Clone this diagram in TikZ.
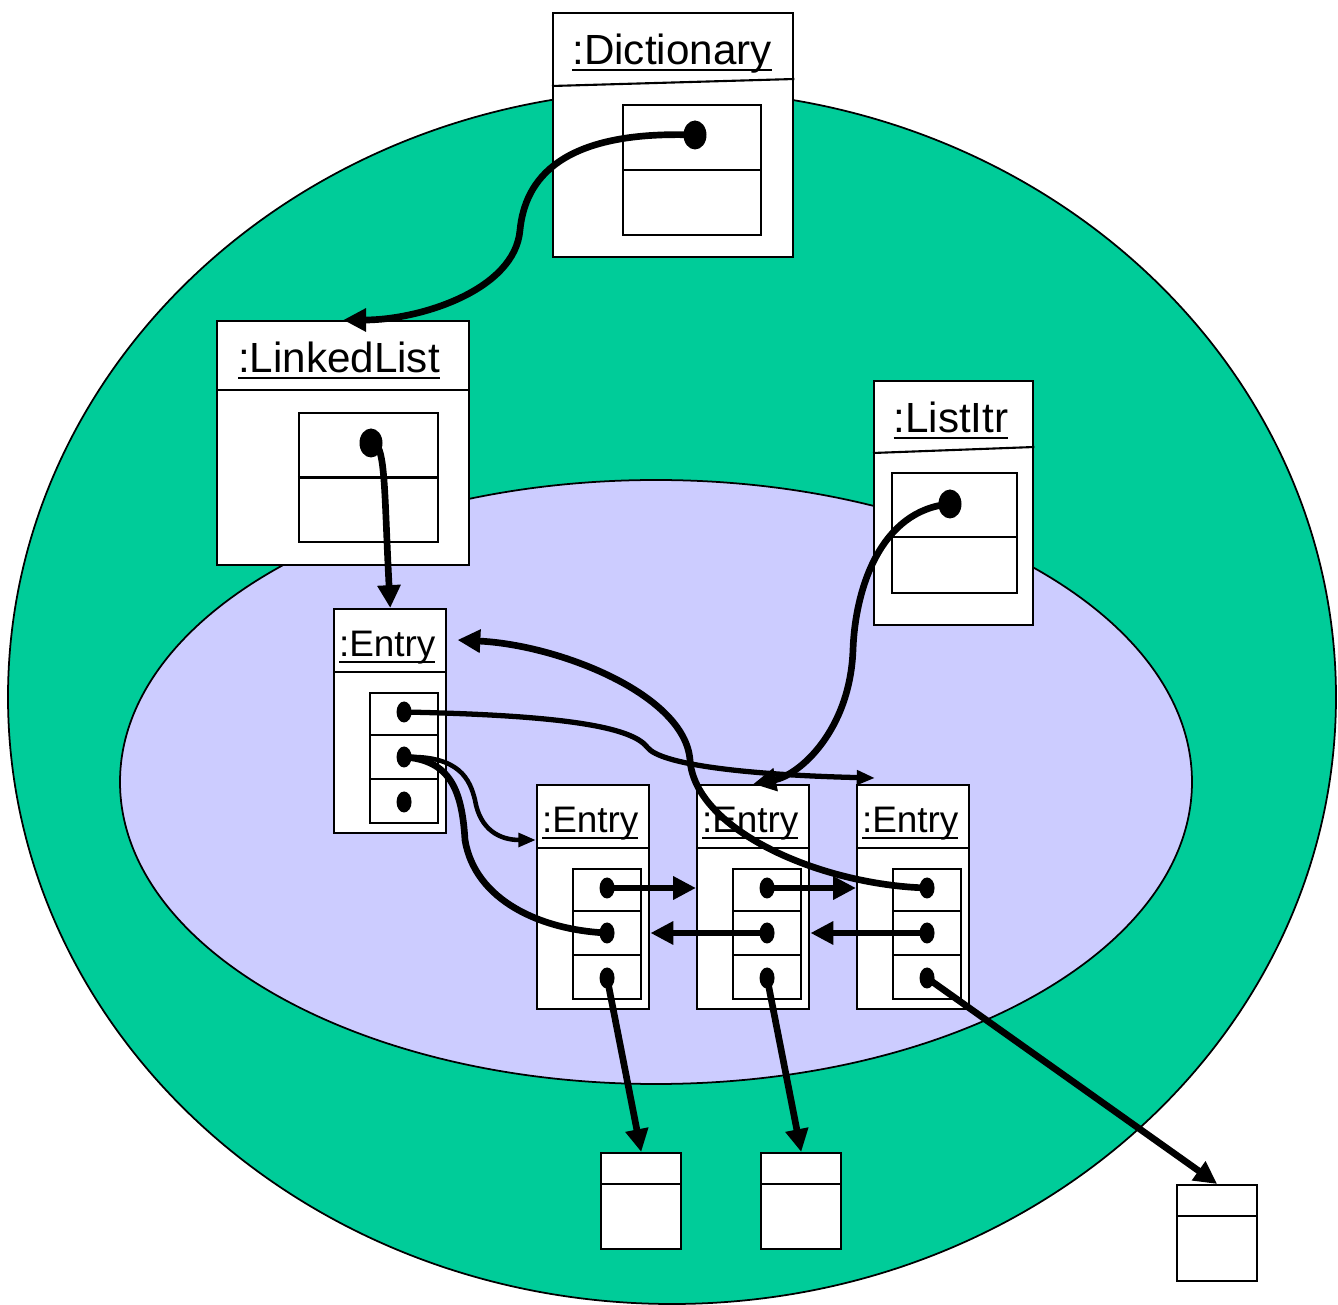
\documentclass[tikz,border=0pt]{standalone}
\usepackage{fontspec}
\setmainfont{Liberation Sans}
\usetikzlibrary{arrows.meta,shapes.geometric,calc}

\definecolor{outergreen}{RGB}{0,204,153}
\definecolor{innerblue}{RGB}{204,204,255}

\begin{document}
\begin{tikzpicture}[
    obj/.style={draw, line width=0.7pt, fill=white, inner sep=0pt, anchor=north west},
    slot/.style={draw, line width=0.6pt, fill=white, inner sep=0pt, anchor=north west},
    head/.style={anchor=base, inner sep=0pt, font=\fontsize{12}{14}\selectfont},
    ehead/.style={anchor=base, inner sep=0pt, font=\fontsize{10.5}{12}\selectfont},
    bigdot/.style={ellipse, fill=black, inner sep=0pt, minimum width=0.23cm, minimum height=0.29cm},
    smalldot/.style={ellipse, fill=black, inner sep=0pt, minimum width=0.15cm, minimum height=0.21cm},
    ptr/.style={line width=1.9pt, -{Triangle[length=6.5pt, width=6.3pt]}},
    thinptr/.style={line width=1.3pt, -{Triangle[length=5pt, width=3.8pt]}}
  ]
     \useasboundingbox (0,0) rectangle (13.38,-13.05);

     % 領域
     \draw [fill=outergreen, line width=0.5pt] (6.72,-6.97) ellipse [x radius=6.64, y radius=6.07];
     \draw [fill=innerblue, line width=0.5pt] (6.56,-7.82) ellipse [x radius=5.36, y radius=3.02];

     % Dictionary
     \node [obj, minimum width=2.40cm, minimum height=2.44cm] (dict) at (5.52,-0.12) {};
     \node [head] (dictt) at (6.72,-0.65) {\underline{\smash{:Dictionary}}};
     \draw [line width=0.6pt] ($(dict.north west)+(0,-0.74)$) -- ($(dict.north east)+(0,-0.67)$);
     \node [slot, minimum width=1.38cm, minimum height=1.30cm] (dslot) at (6.22,-1.04) {};
     \draw [line width=0.6pt] (dslot.west) -- (dslot.east);
     \node [bigdot] (dd) at (6.95,-1.35) {};

     % LinkedList
     \node [obj, minimum width=2.52cm, minimum height=2.44cm] (ll) at (2.16,-3.20) {};
     \node [head] (llt) at (3.39,-3.73) {\underline{\smash{:LinkedList}}};
     \draw [line width=0.6pt] ($(ll.north west)+(0,-0.70)$) -- ($(ll.north east)+(0,-0.70)$);
     \node [slot, minimum width=1.39cm, minimum height=1.29cm] (lslot) at (2.98,-4.12) {};
     \draw [line width=0.6pt] (lslot.west) -- (lslot.east);
     \node [bigdot] (ld) at (3.71,-4.43) {};

     % ListItr
     \node [obj, minimum width=1.59cm, minimum height=2.44cm] (itr) at (8.73,-3.80) {};
     \node [head] (itrt) at (9.51,-4.33) {\underline{\smash{:ListItr}}};
     \draw [line width=0.6pt] ($(itr.north west)+(0,-0.73)$) -- ($(itr.north east)+(0,-0.67)$);
     \node [slot, minimum width=1.25cm, minimum height=1.20cm] (islot) at (8.91,-4.72) {};
     \draw [line width=0.6pt] ($(islot.north west)+(0,-0.65)$) -- ($(islot.north east)+(0,-0.65)$);
     \node [bigdot] (id) at (9.50,-5.04) {};

     % Entry
     \foreach \n/\x/\y in {1/3.33/-6.08, 2/5.36/-7.84, 3/6.96/-7.84, 4/8.56/-7.84}{
      \node [obj, minimum width=1.12cm, minimum height=2.24cm] (e\n) at (\x,\y) {};
      \node [ehead] (e\n t) at ($(e\n.north)+(-0.03,-0.49)$) {\underline{\smash{:Entry}}};
      \draw [line width=0.6pt] ($(e\n.north west)+(0,-0.64)$) -- ($(e\n.north east)+(0,-0.64)$);
      \node [slot, minimum width=0.68cm, minimum height=1.30cm] (s\n) at ($(e\n.north west)+(0.36,-0.84)$) {};
      \draw [line width=0.6pt] ($(s\n.north west)+(0,-0.433)$) -- ($(s\n.north east)+(0,-0.433)$);
      \draw [line width=0.6pt] ($(s\n.north west)+(0,-0.867)$) -- ($(s\n.north east)+(0,-0.867)$);
      \node [smalldot] (e\n a) at ($(s\n.north)+(0,-0.20)$) {};
      \node [smalldot] (e\n b) at ($(s\n.north)+(0,-0.65)$) {};
      \node [smalldot] (e\n c) at ($(s\n.north)+(0,-1.10)$) {};
     }

     % 値
     \foreach \n/\x/\y in {1/6.00/-11.52, 2/7.60/-11.52, 3/11.76/-11.84}{
      \node [obj, minimum width=0.80cm, minimum height=0.96cm] (v\n) at (\x,\y) {};
      \draw [line width=0.6pt] ($(v\n.north west)+(0,-0.32)$) -- ($(v\n.north east)+(0,-0.32)$);
     }

     % 参照
     \draw [ptr] (dd.center) .. controls (5.6,-1.3) and (5.25,-1.8) .. (5.2,-2.3) .. controls (5.15,-2.9) and (4.2,-3.2) .. (ll.north);
     \draw [ptr] (ld.center) .. controls (3.86,-4.40) and (3.84,-4.9) .. (e1.north);
     \draw [ptr] (id.center) .. controls (8.8,-5.1) and (8.55,-5.9) .. (8.53,-6.5) .. controls (8.5,-7.3) and (8.0,-7.75) .. (e3.north);

     \draw [line width=1.5pt, -{Triangle[length=5.2pt, width=4pt]}] (e1a.center) .. controls (5.5,-7.15) and (6.3,-7.25) .. (6.47,-7.47) .. controls (6.6,-7.65) and (7.5,-7.75) .. ([shift={(0.19,0.06)}]e4.north west);
     \draw [thinptr] (e1b.center) .. controls (4.6,-7.55) and (4.7,-7.8) .. (4.75,-8.0) .. controls (4.8,-8.3) and (5.0,-8.40) .. ([yshift=-0.56cm]e2.north west);
     \draw [line width=1.9pt] (e2b.center) .. controls (5.4,-9.3) and (4.75,-9.0) .. (4.65,-8.4) .. controls (4.62,-7.9) and (4.5,-7.6) .. (e1b.center);
     \draw [ptr] (e4a.center) .. controls (8.2,-8.85) and (6.95,-8.3) .. (6.90,-7.60) .. controls (6.85,-6.95) and (5.6,-6.45) .. ([shift={(0.10,-0.32)}]e1.north east);

     \draw [ptr] (e2a.center) -- (e2a -| e3.west);
     \draw [ptr] (e3a.center) -- (e3a -| e4.west);
     \draw [ptr] (e3b.center) -- (e3b -| e2.east);
     \draw [ptr] (e4b.center) -- (e4b -| e3.east);

     \draw [ptr] (e2c.center) -- (v1.north);
     \draw [ptr] (e3c.center) -- (v2.north);
     \draw [ptr] (e4c.center) -- (v3.north);
\end{tikzpicture}
\end{document}
